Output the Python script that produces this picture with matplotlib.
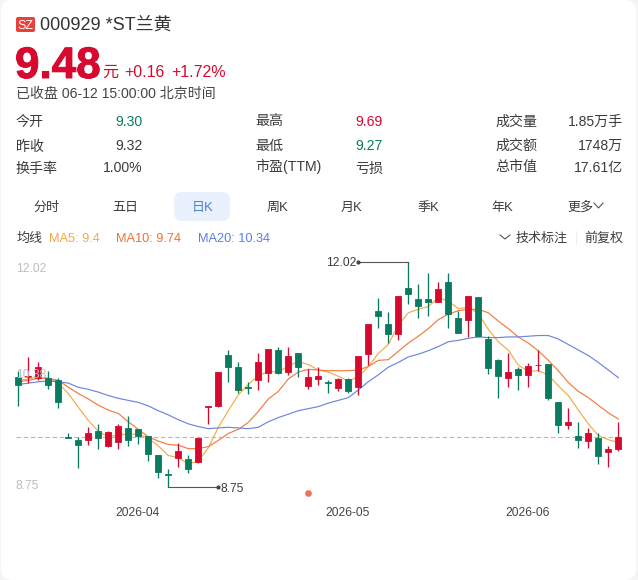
import numpy as np
import matplotlib
matplotlib.use('Agg')
import matplotlib.pyplot as plt
import matplotlib.patheffects as pe
from matplotlib.patches import FancyBboxPatch

plt.rcParams['font.family'] = ['Liberation Sans', 'Noto Sans CJK SC', 'DejaVu Sans']

# daily prices
opens = [10.35, 10.35, 10.33, 10.34, 10.30, 9.48, 9.43, 9.43, 9.57, 9.35, 9.41, 9.61, 9.59, 9.49, 9.22, 8.94, 9.17, 9.16, 9.11, 9.91,
         9.93, 10.67, 10.49, 10.21, 10.30, 10.40, 10.74, 10.42, 10.69, 10.22, 10.32, 10.27, 10.19, 10.32, 10.20, 10.68, 11.30, 11.12, 10.97, 11.64,
         11.48, 11.48, 11.43, 11.73, 11.20, 11.17, 11.51, 10.90, 10.59, 10.33, 10.47, 10.38, 10.52, 10.54, 9.99, 9.65, 9.49, 9.42, 9.47, 9.26, 9.30]
closes = [10.23, 10.37, 10.49, 10.24, 9.99, 9.47, 9.37, 9.53, 9.46, 9.55, 9.64, 9.44, 9.49, 9.23, 8.97, 8.93, 9.28, 9.02, 9.46, 9.93,
          10.42, 10.49, 10.16, 10.19, 10.57, 10.75, 10.41, 10.65, 10.49, 10.35, 10.36, 10.26, 10.32, 10.15, 10.65, 11.11, 11.24, 10.97, 11.52, 11.55,
          11.38, 11.43, 11.62, 11.26, 10.99, 11.52, 10.94, 10.48, 10.36, 10.42, 10.38, 10.51, 10.53, 10.04, 9.65, 9.69, 9.44, 9.53, 9.21, 9.31, 9.48]
highs = [10.43, 10.64, 10.56, 10.43, 10.33, 9.53, 9.48, 9.62, 9.67, 9.56, 9.67, 9.78, 9.60, 9.49, 9.22, 9.01, 9.39, 9.22, 9.47, 9.93,
         10.42, 10.74, 10.56, 10.27, 10.69, 10.75, 10.78, 10.78, 10.69, 10.46, 10.50, 10.30, 10.33, 10.33, 10.65, 11.12, 11.50, 11.29, 11.52, 12.02,
         11.69, 11.85, 11.72, 11.85, 11.31, 11.53, 11.51, 10.94, 10.61, 10.69, 10.49, 10.55, 10.74, 10.54, 9.99, 9.90, 9.70, 9.61, 9.54, 9.35, 9.69]
lows = [9.93, 10.26, 10.30, 10.17, 9.90, 9.46, 9.03, 9.36, 9.30, 9.33, 9.30, 9.35, 9.38, 9.13, 8.88, 8.75, 9.05, 8.95, 9.10, 9.67,
        9.92, 10.27, 10.11, 10.10, 10.16, 10.28, 10.39, 10.38, 10.35, 10.17, 10.24, 10.11, 10.15, 10.12, 10.09, 10.52, 11.06, 10.84, 10.88, 11.41,
        11.21, 11.23, 11.43, 11.06, 10.98, 10.93, 10.93, 10.39, 10.05, 10.21, 10.16, 10.21, 10.44, 10.02, 9.54, 9.59, 9.32, 9.32, 9.09, 9.04, 9.27]

ma5 = [10.30, 10.32, 10.35, 10.33, 10.26, 10.11, 9.91, 9.72, 9.56, 9.48, 9.51, 9.52, 9.52, 9.46, 9.35, 9.21, 9.18, 9.09, 9.13, 9.32,
       9.62, 9.86, 10.09, 10.24, 10.37, 10.43, 10.42, 10.51, 10.57, 10.53, 10.45, 10.42, 10.36, 10.29, 10.35, 10.50, 10.69, 10.82, 11.10, 11.28,
       11.33, 11.37, 11.50, 11.45, 11.34, 11.36, 11.27, 11.04, 10.86, 10.74, 10.52, 10.43, 10.44, 10.38, 10.22, 10.08, 9.87, 9.67, 9.50, 9.44, 9.40]
ma10 = [10.28, 10.30, 10.33, 10.33, 10.30, 10.20, 10.11, 10.03, 9.94, 9.87, 9.82, 9.70, 9.59, 9.48, 9.42, 9.37, 9.36, 9.31, 9.31, 9.34,
        9.43, 9.53, 9.59, 9.69, 9.85, 10.03, 10.14, 10.32, 10.42, 10.46, 10.45, 10.44, 10.44, 10.44, 10.45, 10.50, 10.59, 10.60, 10.72, 10.84,
        10.94, 11.05, 11.18, 11.26, 11.31, 11.33, 11.33, 11.28, 11.16, 11.05, 10.93, 10.84, 10.73, 10.59, 10.44, 10.27, 10.14, 10.05, 9.94, 9.83, 9.74]
ma20 = [10.24, 10.26, 10.28, 10.29, 10.28, 10.26, 10.20, 10.17, 10.13, 10.08, 10.04, 10.01, 9.98, 9.93, 9.86, 9.80, 9.73, 9.67, 9.63, 9.60,
        9.61, 9.62, 9.61, 9.60, 9.62, 9.70, 9.76, 9.81, 9.86, 9.89, 9.92, 9.97, 10.01, 10.05, 10.16, 10.28, 10.38, 10.49, 10.56, 10.64,
        10.68, 10.73, 10.79, 10.86, 10.88, 10.91, 10.93, 10.92, 10.92, 10.93, 10.93, 10.94, 10.95, 10.95, 10.90, 10.82, 10.74, 10.66, 10.56, 10.45, 10.34]

last_price = 9.48
high_price = 12.02
low_price = 8.75
high_idx = 39
low_idx = 15
month_x = [138, 348, 528]
month_labels = ['2026-04', '2026-05', '2026-06']

tab_names = ['分时', '五日', '日K', '周K', '月K', '季K', '年K']
tab_x = [46, 125, 203, 277, 352, 428, 502]

RED = '#d6092f'
GREEN = '#0a7b60'
TEXT = '#3c3c3c'
GREY = '#bdbdbd'

W, H = 638, 580
fig = plt.figure(figsize=(W / 100, H / 100), dpi=100, facecolor='#f5f5f7')

# page layer in pixel units, everything that is not the chart goes here
page = fig.add_axes([0, 0, 1, 1])
page.set_xlim(0, W)
page.set_ylim(H, 0)
page.axis('off')


def txt(x, y, s, px, color=TEXT, ha='left', **kw):
    # y is the text baseline
    return page.text(x, y, s, fontsize=px * 0.72, color=color, ha=ha, va='baseline', **kw)


page.add_patch(FancyBboxPatch((1, 0), 635, 580, boxstyle='round,pad=0,rounding_size=12', fc='white', ec='none'))

# header
page.add_patch(FancyBboxPatch((16, 17), 19, 15, boxstyle='round,pad=0,rounding_size=2', fc='#e8403a', ec='none'))
txt(25.5, 29, 'SZ', 12.5, 'white', ha='center')
txt(40, 30, '000929 *ST兰黄', 18, '#333333')
price = txt(15, 78, '9.48', 44, RED, fontweight='bold')
price.set_path_effects([pe.withStroke(linewidth=0.7, foreground=RED)])
txt(102, 77, '元', 16, RED)
txt(124, 77, '+0.16', 16, RED)
txt(171, 77, '+1.72%', 16, RED)
txt(16, 98, '已收盘 06-12 15:00:00 北京时间', 14, '#444444')

# quote table
rows = [126.5, 150.5, 172.5]
for y, name, val, col in zip(rows, ['今开', '昨收', '换手率'], ['9.30', '9.32', '1.00%'], [GREEN, TEXT, TEXT]):
    txt(16, y, name, 14)
    txt(143, y, val, 14, col, ha='right')
for y, name, val, col in zip(rows, ['最高', '最低', '市盈(TTM)'], ['9.69', '9.27', '亏损'], [RED, GREEN, TEXT]):
    txt(255, y - 1, name, 14)
    txt(383, y, val, 14, col, ha='right')
for y, name, val in zip(rows, ['成交量', '成交额', '总市值'], ['1.85万手', '1748万', '17.61亿']):
    txt(495, y - 1, name, 14)
    txt(623, y - 0.5, val, 14, ha='right')

# period tabs
page.add_patch(FancyBboxPatch((174, 192), 56, 29, boxstyle='round,pad=0,rounding_size=8', fc='#e8f1fc', ec='none'))
for x, name in zip(tab_x, tab_names):
    txt(x, 211, name, 13, '#4a7fd6' if name == '日K' else TEXT, ha='center')
txt(567, 211, '更多', 13)
page.plot([594, 598.5, 603], [203, 208, 203], color='#555555', lw=0.8)

# moving average legend and tools
txt(16, 242, '均线', 13)
txt(49, 242, 'MA5: 9.4', 12.7, '#f5a742')
txt(116, 242, 'MA10: 9.74', 12.7, '#ee7034')
txt(198, 242, 'MA20: 10.34', 12.7, '#5a7fe0')
page.plot([500, 505, 510], [235, 239, 235], color='#555555', lw=0.8)
txt(516, 242, '技术标注', 13)
page.plot([575.5, 575.5], [231, 243], color='#eeeeee', lw=0.8)
txt(584, 242, '前复权', 13)

for x, label in zip(month_x, month_labels):
    txt(x, 516, label, 12, '#444444', ha='center')

# candle area, one index unit is 10 px
ax = fig.add_axes([8.3 / W, 1 - 500 / H, 620 / W, 250 / H])
ax.patch.set_alpha(0)
ax.set_xlim(-1, 61)
ax.set_ylim(8.5656, 12.19)
ax.axis('off')

idx = np.arange(len(closes))
o = np.array(opens)
c = np.array(closes)
colors = [RED if b >= a else GREEN for a, b in zip(o, c)]

ax.axhline(last_price, xmin=0.012, xmax=0.985, color='#f59aa5', lw=0.8, ls=(0, (4, 2.5)), zorder=1)

ax.plot(idx, ma5, color='#f2ac4a', lw=0.85, zorder=2)
ax.plot(idx, ma10, color='#ee7d3e', lw=0.85, zorder=2)
ax.plot(idx, ma20, color='#6d85de', lw=0.85, zorder=2)

ax.vlines(idx, lows, highs, colors=colors, lw=0.95, zorder=3)
ax.bar(idx, np.abs(c - o), bottom=np.minimum(o, c), width=0.62, color=colors, edgecolor=colors, lw=0.6, zorder=4)

# price scale labels are drawn over the candles
for y, label in zip([272, 378, 489], ['12.02', '10.38', '8.75']):
    ax.text(16, y, label, fontsize=8.64, color=GREY, va='baseline', transform=page.transData, zorder=6)

# high and low callouts
ax.plot([high_idx, high_idx, high_idx - 5], [highs[high_idx], high_price, high_price], color='#555555', lw=0.8, zorder=3)
ax.plot(high_idx - 5, high_price, 'o', color='#444444', ms=2, zorder=3)
ax.text(356, 266, '12.02', fontsize=8.64, color=TEXT, ha='right', va='baseline', transform=page.transData)
ax.plot([low_idx, low_idx, low_idx + 5], [lows[low_idx], low_price, low_price], color='#555555', lw=0.8, zorder=3)
ax.plot(low_idx + 5, low_price, 'o', color='#444444', ms=2, zorder=3)
ax.text(220.7, 491.5, '8.75', fontsize=8.64, color=TEXT, ha='left', va='baseline', transform=page.transData)

# event marker under the candles
page.plot(308, 492.5, 'o', color='#ef7350', ms=3.8, zorder=5)

fig.savefig('out.png', dpi=100, facecolor=fig.get_facecolor())
